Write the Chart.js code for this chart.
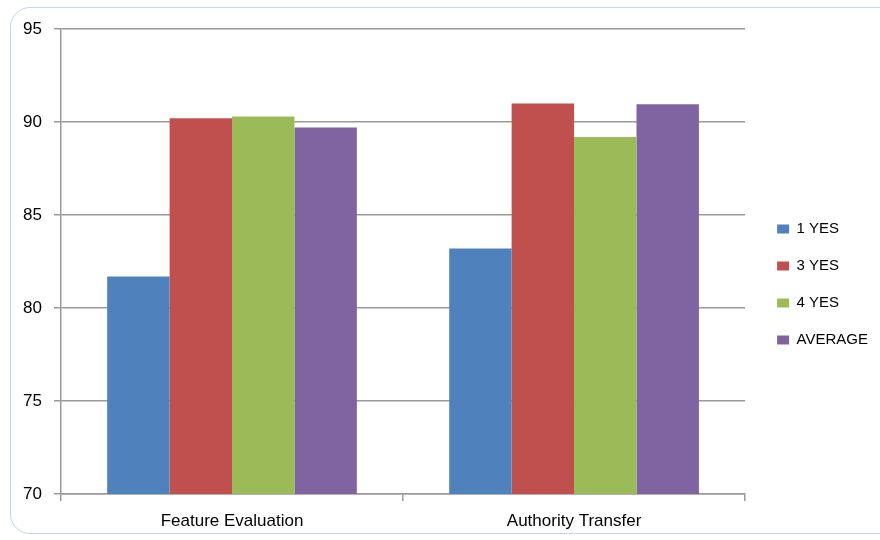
<!DOCTYPE html>
<html>
<head>
<meta charset="utf-8">
<script src="https://cdn.jsdelivr.net/npm/chart.js@4"></script>
<style>
  body { margin: 0; background: #fff; }
  #frame {
    position: absolute; left: 10px; top: 7px; width: 900px; height: 525px;
    border: 1.5px solid #c5d7ec; border-radius: 20px;
  }
  #wrap { position: absolute; left: 0; top: 0; width: 880px; height: 540px; }
</style>
</head>
<body>
<div id="frame"></div>
<div id="wrap"><canvas id="chart"></canvas></div>
<script>
const categories = ['Feature Evaluation', 'Authority Transfer'];
const seriesNames = ['1 YES', '3 YES', '4 YES', 'AVERAGE'];
const oneYes = [81.7, 83.2];
const threeYes = [90.2, 91.0];
const fourYes = [90.3, 89.2];
const average = [89.7, 90.95];
const colors = ['#4F81BD', '#C0504D', '#9BBB59', '#8064A2'];

const values = [oneYes, threeYes, fourYes, average];

new Chart(document.getElementById('chart'), {
    type: 'bar',
    data: {
        labels: categories,
        datasets: seriesNames.map((name, i) => ({
            label: name,
            data: values[i],
            backgroundColor: colors[i],
            categoryPercentage: 0.73,
            barPercentage: 1
        }))
    },
    options: {
        responsive: true,
        maintainAspectRatio: false,
        animation: false,
        layout: { padding: { left: 10, top: 29, bottom: 0, right: 2 } },
        plugins: {
            legend: {
                position: 'right',
                labels: {
                    boxWidth: 12, boxHeight: 9, padding: 22,
                    color: '#000',
                    font: { family: 'Liberation Sans', size: 15 }
                }
            },
            tooltip: { enabled: false }
        },
        scales: {
            x: {
                grid: { drawOnChartArea: false, drawTicks: true, offset: true, tickLength: 7, color: '#9a9a9a', lineWidth: 1.5 },
                border: { color: '#9a9a9a', width: 1.5 },
                ticks: { color: '#000', padding: 10, font: { family: 'Liberation Sans', size: 17 } },
                afterFit: scale => { scale.height = 46; }
            },
            y: {
                min: 70, max: 95,
                ticks: { stepSize: 5, color: '#000', padding: 12, font: { family: 'Liberation Sans', size: 17 } },
                grid: { color: '#9a9a9a', lineWidth: 1.5, tickLength: 7 },
                border: { color: '#9a9a9a', width: 1.5 },
                afterFit: scale => { scale.width = 51; }
            },
            // empty spacer between the plot and the legend
            gap: {
                position: 'right',
                min: 70, max: 95,
                ticks: { display: false },
                grid: { display: false },
                border: { display: false },
                afterFit: scale => { scale.width = 10; }
            }
        }
    }
});
</script>
</body>
</html>
